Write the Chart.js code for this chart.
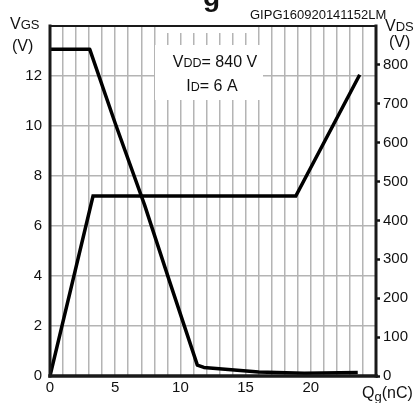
<!DOCTYPE html>
<html>
<head>
<meta charset="utf-8">
<script src="https://cdn.jsdelivr.net/npm/chart.js@4.4.1/dist/chart.umd.min.js"></script>
<style>
  html, body { margin: 0; padding: 0; background: #fff; }
  #wrap { width: 416px; height: 403px; position: relative; }
</style>
</head>
<body>
<div id="wrap"><canvas id="gc"></canvas></div>
<script>
// gate charge data
var qgVgs = [0, 3.3, 18.85, 23.75];
var vgs   = [0, 7.2, 7.2, 12.05];

var qgVds = [0, 3.05, 5.0, 7.25, 9.2, 11.3, 11.8, 16, 19.5, 23.6];
var vds   = [840, 840, 650, 440, 240, 28, 22, 10, 7, 9];

var vgsTicks = [0, 2, 4, 6, 8, 10, 12];
var vdsTicks = [0, 100, 200, 300, 400, 500, 600, 700, 800];
var qgTicks  = [0, 5, 10, 15, 20];

function pts(xs, ys) {
  var out = [];
  for (var i = 0; i < xs.length; i++) out.push({x: xs[i], y: ys[i]});
  return out;
}

var FONT = "'Liberation Sans', Arial, sans-serif";
Chart.defaults.font.family = FONT;
Chart.defaults.color = '#111';

// frame, labels and the VDD / ID box
var decor = {
  id: 'decor',
  beforeDatasetsDraw: function(chart) {
    var c = chart.ctx;
    c.save();
    c.fillStyle = '#fff';
    c.fillRect(155, 45, 108, 55);
    c.fillRect(163, 27, 90, 6);
    c.fillStyle = '#111';
    c.textBaseline = 'alphabetic';
    // VDD= 840 V
    c.font = '16px ' + FONT;
    var w1 = c.measureText('V').width;
    c.font = '12.5px ' + FONT;
    var w2 = c.measureText('DD').width;
    c.font = '16px ' + FONT;
    var w3 = c.measureText('= 840 V').width;
    var x = 215 - (w1 + w2 + w3) / 2;
    c.fillText('V', x, 67);
    c.font = '12.5px ' + FONT;
    c.fillText('DD', x + w1, 67);
    c.font = '16px ' + FONT;
    c.fillText('= 840 V', x + w1 + w2, 67);
    // ID= 6 A
    w1 = c.measureText('I').width;
    c.font = '12.5px ' + FONT;
    w2 = c.measureText('D').width;
    c.font = '16px ' + FONT;
    w3 = c.measureText('= 6 A').width;
    x = 212 - (w1 + w2 + w3) / 2;
    c.fillText('I', x, 91);
    c.font = '12.5px ' + FONT;
    c.fillText('D', x + w1, 91);
    c.font = '16px ' + FONT;
    c.fillText('= 6 A', x + w1 + w2, 91);
    c.restore();
  },
  afterDraw: function(chart) {
    var c = chart.ctx;
    var a = chart.chartArea;
    c.save();
    c.strokeStyle = '#1a1a1a';
    c.lineCap = 'square';
    c.lineWidth = 2;
    c.beginPath(); c.moveTo(a.left, a.top); c.lineTo(a.right, a.top); c.stroke();
    c.lineWidth = 3;
    c.beginPath(); c.moveTo(a.left, a.top); c.lineTo(a.left, a.bottom); c.stroke();
    c.beginPath(); c.moveTo(a.right, a.top); c.lineTo(a.right, a.bottom); c.stroke();
    c.lineWidth = 3.5;
    c.beginPath(); c.moveTo(a.left, a.bottom); c.lineTo(a.right, a.bottom); c.stroke();

    c.fillStyle = '#111';
    c.textBaseline = 'alphabetic';
    // cut-off title
    c.font = 'bold 28px ' + FONT;
    c.fillText('g', 203, 6);
    // figure code
    c.font = '13px ' + FONT;
    c.fillText('GIPG160920141152LM', 250, 19, 138);
    // VGS (V)
    c.font = '16px ' + FONT;
    c.fillText('V', 10, 29);
    var wv = c.measureText('V').width;
    c.font = '13px ' + FONT;
    c.fillText('GS', 10 + wv, 29);
    c.font = '16px ' + FONT;
    c.fillText('(V)', 12, 51);
    // VDS (V)
    c.fillText('V', 385, 31);
    c.font = '13px ' + FONT;
    c.fillText('DS', 385 + wv, 31);
    c.font = '16px ' + FONT;
    c.fillText('(V)', 389, 47);
    // Qg(nC)
    c.font = '16px ' + FONT;
    c.fillText('Q', 362, 398);
    var wq = c.measureText('Q').width;
    c.font = '13px ' + FONT;
    c.fillText('g', 362 + wq, 401);
    var wg = c.measureText('g').width;
    c.font = '16px ' + FONT;
    c.fillText('(nC)', 362 + wq + wg, 398);
    c.restore();
  }
};

var chart = new Chart(document.getElementById('gc'), {
  type: 'line',
  data: {
    datasets: [
      {
        label: 'VGS',
        data: pts(qgVgs, vgs),
        yAxisID: 'y',
        borderColor: '#000',
        borderWidth: 3.5,
        pointRadius: 0,
        tension: 0,
        borderJoinStyle: 'miter'
      },
      {
        label: 'VDS',
        data: pts(qgVds, vds),
        yAxisID: 'y2',
        borderColor: '#000',
        borderWidth: 3.5,
        pointRadius: 0,
        tension: 0,
        borderJoinStyle: 'round'
      }
    ]
  },
  options: {
    responsive: true,
    maintainAspectRatio: false,
    animation: false,
    layout: { padding: { top: 26, left: 0, right: 0, bottom: 0 } },
    plugins: {
      legend: { display: false },
      tooltip: { enabled: false }
    },
    scales: {
      x: {
        type: 'linear',
        min: 0,
        max: 25,
        afterFit: function(s) { s.height = 27; },
        afterBuildTicks: function(s) {
          var t = [];
          for (var i = 0; i <= 25; i++) t.push({value: i});
          s.ticks = t;
        },
        ticks: {
          autoSkip: false,
          maxRotation: 0,
          padding: 3,
          font: { size: 15 },
          color: '#111',
          callback: function(v) { return qgTicks.indexOf(v) >= 0 ? String(v) : ''; }
        },
        grid: { color: '#b4b4b4', lineWidth: 1.5, drawTicks: false },
        border: { display: false }
      },
      y: {
        position: 'left',
        min: 0,
        max: 14,
        afterFit: function(s) { s.width = 50; },
        afterBuildTicks: function(s) {
          var t = [];
          for (var i = 0; i <= 14; i += 2) t.push({value: i});
          s.ticks = t;
        },
        ticks: {
          padding: 8,
          font: { size: 15 },
          color: '#111',
          callback: function(v) { return vgsTicks.indexOf(v) >= 0 ? String(v) : ''; }
        },
        grid: { color: '#b4b4b4', lineWidth: 1.5, drawTicks: false },
        border: { display: false }
      },
      y2: {
        position: 'right',
        min: 0,
        max: 900,
        afterFit: function(s) { s.width = 40; },
        afterBuildTicks: function(s) {
          var t = [];
          for (var i = 0; i < vdsTicks.length; i++) t.push({value: vdsTicks[i]});
          s.ticks = t;
        },
        ticks: {
          padding: 3,
          font: { size: 15 },
          color: '#111',
          callback: function(v) { return String(v); }
        },
        grid: { drawOnChartArea: false, tickLength: 4, tickColor: '#111', tickWidth: 2.5 },
        border: { display: false }
      }
    }
  },
  plugins: [decor]
});
</script>
</body>
</html>
